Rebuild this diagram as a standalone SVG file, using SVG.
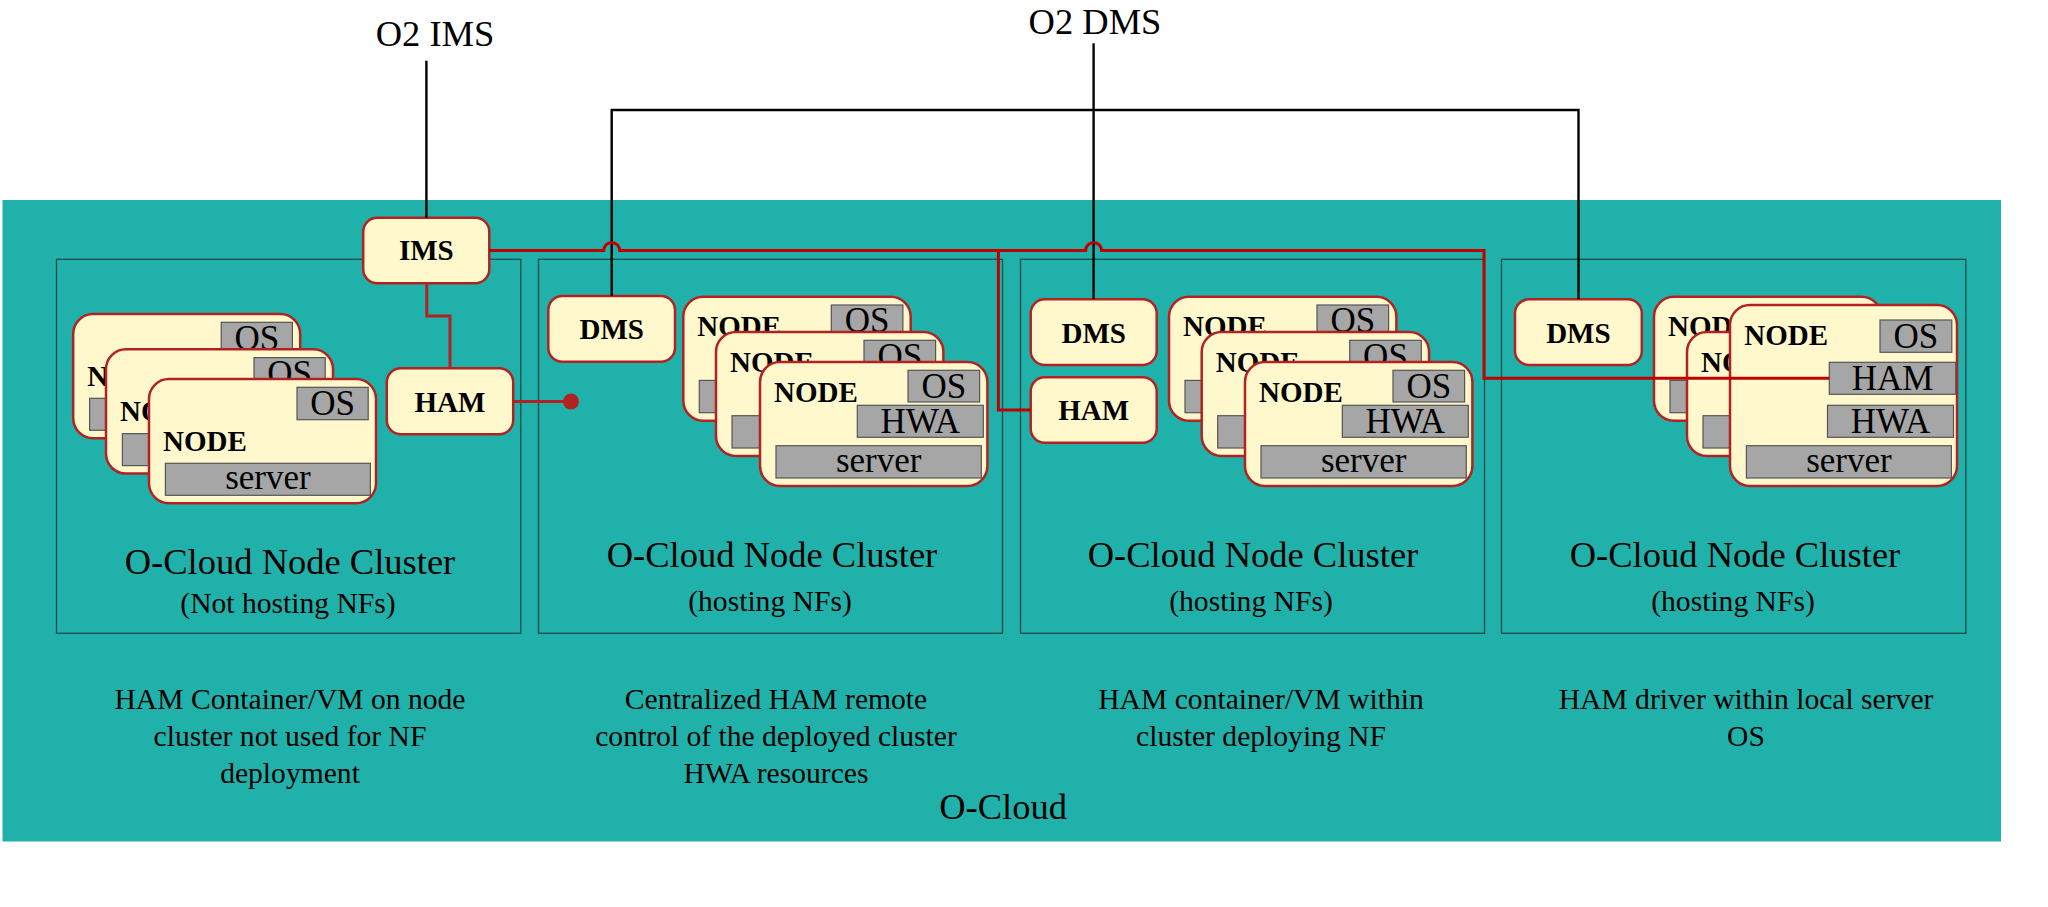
<svg xmlns="http://www.w3.org/2000/svg" width="2048" height="907" viewBox="0 0 2048 907">
<style>
.t{font-family:"Liberation Serif","Times New Roman",serif;fill:#000}
.big{font-size:36.5px}
.mid{font-size:29.6px}
.b{font-family:"Liberation Serif","Times New Roman",serif;font-weight:bold;font-size:29px;fill:#000}
.g{font-family:"Liberation Serif","Times New Roman",serif;font-size:35px;fill:#000}
.box{fill:#FFF8CD;stroke:#B22222;stroke-width:2.5}
.gray{fill:#A6A6A6;stroke:#555;stroke-width:1.2}
.cl{fill:none;stroke:#1a4a48;stroke-width:1.3}
.blk{fill:none;stroke:#000;stroke-width:2.4}
.red{fill:none;stroke:#C00000;stroke-width:3}
.fb{fill:none;stroke:#B22222;stroke-width:3}
</style>
<rect width="2048" height="907" fill="#fff"/>
<g id="ocloud">
<rect x="2.5" y="200" width="1998.5" height="641.5" fill="#20B2AA"/>
<text class="t big" x="1003" y="819" text-anchor="middle">O-Cloud</text>
</g>
<g id="labels">
<text class="t big" x="435" y="45.7" text-anchor="middle">O2 IMS</text>
<text class="t big" x="1095" y="34.3" text-anchor="middle">O2 DMS</text>
</g>

<g id="cluster1">
<rect class="cl" x="56.5" y="259.3" width="464.3" height="374"/>
<text class="t big" x="290" y="574" text-anchor="middle">O-Cloud Node Cluster</text>
<text class="t mid" x="288" y="612.7" text-anchor="middle">(Not hosting NFs)</text>
<text class="t mid" text-anchor="middle"><tspan x="290" y="709.3">HAM Container/VM on node</tspan><tspan x="290" y="746">cluster not used for NF</tspan><tspan x="290" y="782.7">deployment</tspan></text>
</g>
<g id="cluster2">
<rect class="cl" x="538.5" y="259.3" width="464" height="374"/>
<text class="t big" x="772" y="567.3" text-anchor="middle">O-Cloud Node Cluster</text>
<text class="t mid" x="770" y="610.7" text-anchor="middle">(hosting NFs)</text>
<text class="t mid" text-anchor="middle"><tspan x="776" y="709.3">Centralized HAM remote</tspan><tspan x="776" y="746">control of the deployed cluster</tspan><tspan x="776" y="782.7">HWA resources</tspan></text>
</g>
<g id="cluster3">
<rect class="cl" x="1020.5" y="259.3" width="464" height="374"/>
<text class="t big" x="1253" y="567.3" text-anchor="middle">O-Cloud Node Cluster</text>
<text class="t mid" x="1251" y="610.7" text-anchor="middle">(hosting NFs)</text>
<text class="t mid" text-anchor="middle"><tspan x="1261" y="709.3">HAM container/VM within</tspan><tspan x="1261" y="746">cluster deploying NF</tspan></text>
</g>
<g id="cluster4">
<rect class="cl" x="1501.5" y="259.3" width="464.3" height="374"/>
<text class="t big" x="1735" y="567.3" text-anchor="middle">O-Cloud Node Cluster</text>
<text class="t mid" x="1733" y="610.7" text-anchor="middle">(hosting NFs)</text>
<text class="t mid" text-anchor="middle"><tspan x="1746" y="709.3">HAM driver within local server</tspan><tspan x="1746" y="746">OS</tspan></text>
</g>

<g id="ims">
<rect class="box" x="363.2" y="217.7" width="126.1" height="65.6" rx="14"/>
<text class="b" x="426.3" y="260" text-anchor="middle">IMS</text>
</g>
<g id="ham1">
<rect class="box" x="386.8" y="368.3" width="126.4" height="66" rx="14"/>
<text class="b" x="450" y="411.7" text-anchor="middle">HAM</text>
</g>

<!-- cluster 1 nodes -->
<g id="c1-nodeA" transform="translate(73.2,314)">
<rect class="box" width="227" height="124.3" rx="20"/>
<rect class="gray" x="148" y="8.3" width="71.2" height="32.4"/>
<text class="g" x="183.6" y="36.2" text-anchor="middle">OS</text>
<text class="b" x="14" y="72">NODE</text>
<rect class="gray" x="16.4" y="84.3" width="205" height="32"/>
</g>
<g id="c1-nodeB" transform="translate(106,349.3)">
<rect class="box" width="227" height="124.3" rx="20"/>
<rect class="gray" x="148" y="8.3" width="71.2" height="32.4"/>
<text class="g" x="183.6" y="36.2" text-anchor="middle">OS</text>
<text class="b" x="14" y="72">NODE</text>
<rect class="gray" x="16.4" y="84.3" width="205" height="32"/>
</g>
<g id="c1-nodeC" transform="translate(149,379)">
<rect class="box" width="227" height="124.3" rx="20"/>
<rect class="gray" x="148" y="8.3" width="71.2" height="32.4"/>
<text class="g" x="183.6" y="36.2" text-anchor="middle">OS</text>
<text class="b" x="14" y="72">NODE</text>
<rect class="gray" x="16.4" y="84.3" width="205" height="32"/>
<text class="g" x="118.9" y="110.3" text-anchor="middle">server</text>
</g>

<!-- cluster 2 -->
<g id="dms2">
<rect class="box" x="548.3" y="296" width="126.7" height="65.7" rx="14"/>
<text class="b" x="611.7" y="338.5" text-anchor="middle">DMS</text>
</g>
<g id="c2-nodeA" transform="translate(683.3,296.7)">
<rect class="box" width="227.4" height="124" rx="20"/>
<rect class="gray" x="148" y="8.3" width="71.6" height="31.7"/>
<text class="g" x="183.8" y="35.6" text-anchor="middle">OS</text>
<text class="b" x="14" y="39.7">NODE</text>
<rect class="gray" x="97.3" y="43.3" width="126" height="32"/>
<rect class="gray" x="16" y="83.7" width="205.3" height="32.3"/>
</g>
<g id="c2-nodeB" transform="translate(716,332)">
<rect class="box" width="227.4" height="124" rx="20"/>
<rect class="gray" x="148" y="8.3" width="71.6" height="31.7"/>
<text class="g" x="183.8" y="35.6" text-anchor="middle">OS</text>
<text class="b" x="14" y="39.7">NODE</text>
<rect class="gray" x="97.3" y="43.3" width="126" height="32"/>
<rect class="gray" x="16" y="83.7" width="205.3" height="32.3"/>
</g>
<g id="c2-nodeC" transform="translate(760,362)">
<rect class="box" width="227.4" height="124" rx="20"/>
<rect class="gray" x="148" y="8.3" width="71.6" height="31.7"/>
<text class="g" x="183.8" y="35.6" text-anchor="middle">OS</text>
<text class="b" x="14" y="39.7">NODE</text>
<rect class="gray" x="97.3" y="43.3" width="126" height="32"/>
<text class="g" x="160.3" y="71.3" text-anchor="middle">HWA</text>
<rect class="gray" x="16" y="83.7" width="205.3" height="32.3"/>
<text class="g" x="118.7" y="109.8" text-anchor="middle">server</text>
</g>

<!-- cluster 3 -->
<g id="dms3">
<rect class="box" x="1030.7" y="299.3" width="126" height="65.7" rx="14"/>
<text class="b" x="1093.7" y="342.5" text-anchor="middle">DMS</text>
</g>
<g id="ham3">
<rect class="box" x="1030.7" y="377.3" width="126" height="65.4" rx="14"/>
<text class="b" x="1093.7" y="420.3" text-anchor="middle">HAM</text>
</g>
<g id="c3-nodeA" transform="translate(1169,296.7)">
<rect class="box" width="227.4" height="124" rx="20"/>
<rect class="gray" x="148" y="8.3" width="71.6" height="31.7"/>
<text class="g" x="183.8" y="35.6" text-anchor="middle">OS</text>
<text class="b" x="14" y="39.7">NODE</text>
<rect class="gray" x="97.3" y="43.3" width="126" height="32"/>
<rect class="gray" x="16" y="83.7" width="205.3" height="32.3"/>
</g>
<g id="c3-nodeB" transform="translate(1201.7,332)">
<rect class="box" width="227.4" height="124" rx="20"/>
<rect class="gray" x="148" y="8.3" width="71.6" height="31.7"/>
<text class="g" x="183.8" y="35.6" text-anchor="middle">OS</text>
<text class="b" x="14" y="39.7">NODE</text>
<rect class="gray" x="97.3" y="43.3" width="126" height="32"/>
<rect class="gray" x="16" y="83.7" width="205.3" height="32.3"/>
</g>
<g id="c3-nodeC" transform="translate(1245,362)">
<rect class="box" width="227.4" height="124" rx="20"/>
<rect class="gray" x="148" y="8.3" width="71.6" height="31.7"/>
<text class="g" x="183.8" y="35.6" text-anchor="middle">OS</text>
<text class="b" x="14" y="39.7">NODE</text>
<rect class="gray" x="97.3" y="43.3" width="126" height="32"/>
<text class="g" x="160.3" y="71.3" text-anchor="middle">HWA</text>
<rect class="gray" x="16" y="83.7" width="205.3" height="32.3"/>
<text class="g" x="118.7" y="109.8" text-anchor="middle">server</text>
</g>

<!-- cluster 4 -->
<g id="dms4">
<rect class="box" x="1515" y="299.3" width="126.8" height="65.7" rx="14"/>
<text class="b" x="1578.4" y="342.5" text-anchor="middle">DMS</text>
</g>
<g id="c4-nodeA" transform="translate(1654,296.7)">
<rect class="box" width="227.4" height="124" rx="20"/>
<text class="b" x="14" y="39.7">NODE</text>
<rect class="gray" x="16" y="83.7" width="205.3" height="32.3"/>
</g>
<g id="c4-nodeB" transform="translate(1687,332)">
<rect class="box" width="227.4" height="124" rx="20"/>
<text class="b" x="14" y="39.7">NODE</text>
<rect class="gray" x="16" y="83.7" width="205.3" height="32.3"/>
</g>
<g id="c4-nodeC" transform="translate(1730,305)">
<rect class="box" width="227" height="181" rx="20"/>
<text class="b" x="14.3" y="40">NODE</text>
<rect class="gray" x="150" y="15" width="71.8" height="32.3"/>
<text class="g" x="185.9" y="42.7" text-anchor="middle">OS</text>
<rect class="gray" x="99.3" y="57.3" width="126.4" height="32"/>
<text class="g" x="162.5" y="85" text-anchor="middle">HAM</text>
<rect class="gray" x="97.5" y="100.3" width="126" height="32"/>
<text class="g" x="160.5" y="128" text-anchor="middle">HWA</text>
<rect class="gray" x="16.4" y="140.7" width="205" height="32.3"/>
<text class="g" x="118.9" y="166.8" text-anchor="middle">server</text>
</g>

<g id="connectors">
<path class="blk" d="M426.4,60.7 V217.7"/>
<path class="blk" d="M1093.6,43.3 V299.3"/>
<path class="blk" d="M611.7,296 V110 H1093.6"/>
<path class="blk" d="M1093.6,110 H1578.5 V299.3"/>
<path class="red" d="M489.3,250.5 H603.7 a8,8 0 0 1 16,0 H1085.6 a8,8 0 0 1 16,0 H1484 V378.3 H1829.3"/>
<path class="red" d="M998.4,250.5 V410 H1030.7"/>
<path class="fb" d="M426.8,283.3 V316 H450 V368.3"/>
<path class="fb" d="M513.2,401.5 H571"/>
<circle cx="571" cy="401.5" r="8" fill="#B22222"/>
</g>
</svg>
